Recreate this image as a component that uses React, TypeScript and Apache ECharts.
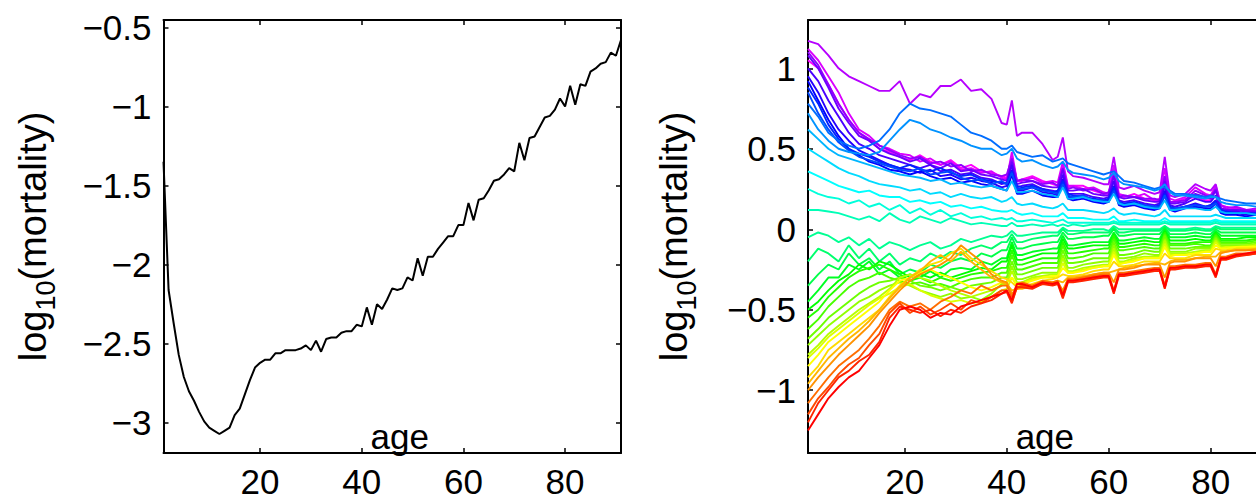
import React, { useEffect, useRef } from "react";
import * as echarts from "echarts";

// ages 1..91 (left panel, every year)
const ages = [
  1, 2, 3, 4, 5, 6, 7, 8, 9, 10, 11, 12, 13, 14, 15, 16, 17, 18, 19, 20,
  21, 22, 23, 24, 25, 26, 27, 28, 29, 30, 31, 32, 33, 34, 35, 36, 37, 38, 39, 40,
  41, 42, 43, 44, 45, 46, 47, 48, 49, 50, 51, 52, 53, 54, 55, 56, 57, 58, 59, 60,
  61, 62, 63, 64, 65, 66, 67, 68, 69, 70, 71, 72, 73, 74, 75, 76, 77, 78, 79, 80,
  81, 82, 83, 84, 85, 86, 87, 88, 89, 90, 91,
];

// mean log10 mortality by age (left panel)
const meanLogMortality = [
  -1.35, -2.16, -2.37, -2.57, -2.71, -2.8, -2.86, -2.93, -2.99, -3.03,
  -3.05, -3.07, -3.05, -3.03, -2.95, -2.91, -2.82, -2.73, -2.65, -2.62,
  -2.6, -2.6, -2.56, -2.56, -2.54, -2.54, -2.54, -2.53, -2.51, -2.54,
  -2.48, -2.55, -2.47, -2.46, -2.46, -2.43, -2.42, -2.42, -2.38, -2.39,
  -2.27, -2.38, -2.25, -2.28, -2.22, -2.15, -2.16, -2.15, -2.08, -2.1,
  -1.96, -2.07, -1.95, -1.95, -1.9, -1.86, -1.82, -1.82, -1.75, -1.75,
  -1.61, -1.72, -1.59, -1.58, -1.53, -1.47, -1.46, -1.43, -1.39, -1.41,
  -1.23, -1.34, -1.2, -1.19, -1.13, -1.07, -1.06, -1.02, -0.95, -1.0,
  -0.87, -0.99, -0.86, -0.87, -0.78, -0.76, -0.73, -0.72, -0.66, -0.68, -0.58,
];

// ages sampled for the right panel (denser around the decade spikes)
const sampleAges = [
  1, 3, 5, 7, 9, 11, 13, 15, 17, 19,
  21, 23, 25, 27, 29, 31, 33, 35, 37, 39,
  40, 41, 42, 43, 45, 47, 49, 50, 51, 52,
  53, 55, 57, 59, 60, 61, 62, 63, 65, 67,
  69, 70, 71, 72, 73, 75, 77, 79, 80, 81,
  82, 83, 85, 87, 89, 91,
];

// relative log10 mortality per period (right panel), earliest first
const p01 = [1.05,1.0,0.9,0.78,0.68,0.6,0.55,0.5,0.48,0.45, 0.43,0.46,0.42,0.4,0.43,0.38,0.4,0.36,0.35,0.33, 0.32,0.45,0.3,0.31,0.33,0.3,0.28,0.27,0.4,0.26, 0.27,0.27,0.24,0.22,0.22,0.35,0.21,0.2,0.22,0.19, 0.18,0.18,0.32,0.17,0.17,0.19,0.2,0.18,0.18,0.25, 0.13,0.12,0.13,0.11,0.12,0.1];
const p02 = [1.12,1.05,0.95,0.85,0.72,0.62,0.58,0.52,0.5,0.47, 0.46,0.42,0.44,0.4,0.42,0.37,0.38,0.35,0.36,0.32, 0.31,0.48,0.3,0.3,0.32,0.29,0.3,0.29,0.42,0.27, 0.27,0.25,0.26,0.23,0.22,0.4,0.22,0.21,0.2,0.22, 0.18,0.19,0.38,0.19,0.18,0.2,0.26,0.22,0.21,0.27, 0.15,0.14,0.13,0.12,0.12,0.11];
const p03 = [1.17,1.15,1.08,1.0,0.95,0.92,0.89,0.86,0.86,0.92, 0.78,0.84,0.82,0.89,0.89,0.93,0.86,0.87,0.81,0.66, 0.65,0.8,0.58,0.6,0.6,0.53,0.43,0.45,0.57,0.36, 0.33,0.32,0.3,0.28,0.28,0.45,0.26,0.25,0.27,0.24, 0.22,0.23,0.45,0.21,0.2,0.22,0.28,0.25,0.24,0.28, 0.15,0.13,0.14,0.12,0.13,0.12];
const p04 = [1.1,1.02,0.9,0.78,0.68,0.6,0.56,0.52,0.49,0.46, 0.44,0.45,0.41,0.42,0.39,0.4,0.36,0.37,0.34,0.33, 0.34,0.44,0.3,0.31,0.3,0.28,0.29,0.27,0.38,0.25, 0.26,0.24,0.25,0.22,0.23,0.34,0.2,0.21,0.2,0.19, 0.19,0.18,0.33,0.17,0.17,0.18,0.24,0.21,0.2,0.25, 0.13,0.12,0.12,0.12,0.11,0.11];
const p05 = [1.08,1.0,0.88,0.75,0.66,0.58,0.55,0.5,0.47,0.45, 0.42,0.44,0.4,0.38,0.41,0.36,0.37,0.34,0.33,0.31, 0.3,0.42,0.28,0.29,0.3,0.27,0.26,0.26,0.37,0.24, 0.24,0.25,0.22,0.21,0.21,0.33,0.2,0.19,0.2,0.18, 0.17,0.17,0.3,0.16,0.16,0.17,0.22,0.2,0.19,0.24, 0.13,0.12,0.12,0.11,0.11,0.1];
const p06 = [1.0,0.92,0.8,0.7,0.6,0.53,0.5,0.46,0.44,0.42, 0.4,0.38,0.4,0.36,0.37,0.34,0.35,0.32,0.31,0.28, 0.29,0.4,0.26,0.27,0.28,0.25,0.24,0.23,0.34,0.22, 0.22,0.22,0.2,0.19,0.2,0.3,0.18,0.17,0.18,0.16, 0.15,0.16,0.27,0.15,0.14,0.16,0.19,0.17,0.17,0.21, 0.12,0.11,0.11,0.1,0.1,0.09];
const p07 = [0.95,0.85,0.72,0.62,0.55,0.49,0.46,0.43,0.4,0.38, 0.37,0.35,0.37,0.33,0.34,0.31,0.32,0.3,0.29,0.26, 0.27,0.37,0.24,0.24,0.26,0.23,0.22,0.21,0.31,0.2, 0.2,0.21,0.18,0.17,0.18,0.27,0.16,0.15,0.16,0.14, 0.13,0.14,0.24,0.13,0.12,0.14,0.16,0.14,0.15,0.18, 0.11,0.1,0.1,0.09,0.09,0.08];
const p08 = [0.92,0.8,0.68,0.58,0.5,0.46,0.42,0.4,0.37,0.36, 0.34,0.36,0.33,0.31,0.32,0.29,0.3,0.28,0.27,0.25, 0.24,0.34,0.22,0.22,0.24,0.21,0.2,0.2,0.29,0.19, 0.18,0.19,0.17,0.16,0.17,0.25,0.15,0.14,0.15,0.13, 0.12,0.13,0.21,0.12,0.11,0.13,0.14,0.13,0.13,0.16, 0.1,0.09,0.09,0.08,0.09,0.08];
const p09 = [0.88,0.78,0.65,0.56,0.5,0.47,0.45,0.42,0.4,0.38, 0.4,0.37,0.36,0.38,0.35,0.33,0.34,0.31,0.3,0.29, 0.28,0.36,0.27,0.26,0.27,0.25,0.23,0.24,0.3,0.22, 0.21,0.2,0.19,0.18,0.19,0.26,0.17,0.16,0.17,0.15, 0.14,0.15,0.22,0.14,0.13,0.14,0.15,0.14,0.15,0.17, 0.12,0.11,0.1,0.1,0.1,0.09];
const p10 = [0.85,0.72,0.62,0.54,0.49,0.45,0.43,0.41,0.39,0.37, 0.36,0.38,0.34,0.35,0.36,0.32,0.3,0.31,0.28,0.3, 0.28,0.35,0.25,0.25,0.26,0.24,0.23,0.22,0.28,0.21, 0.2,0.21,0.18,0.18,0.17,0.24,0.17,0.15,0.16,0.15, 0.14,0.14,0.21,0.13,0.13,0.14,0.15,0.14,0.14,0.16, 0.11,0.1,0.1,0.1,0.09,0.09];
const p11 = [0.78,0.7,0.6,0.55,0.52,0.5,0.52,0.55,0.62,0.72, 0.78,0.75,0.74,0.72,0.7,0.65,0.6,0.58,0.55,0.5, 0.5,0.52,0.48,0.47,0.45,0.46,0.42,0.43,0.44,0.41, 0.4,0.38,0.36,0.34,0.35,0.36,0.33,0.3,0.29,0.27, 0.25,0.26,0.26,0.24,0.22,0.22,0.21,0.2,0.21,0.2, 0.19,0.18,0.17,0.16,0.16,0.15];
const p12 = [0.72,0.62,0.55,0.5,0.48,0.47,0.46,0.48,0.55,0.62, 0.68,0.66,0.62,0.6,0.57,0.55,0.52,0.5,0.5,0.46, 0.47,0.5,0.44,0.42,0.43,0.4,0.38,0.39,0.42,0.37, 0.35,0.34,0.33,0.31,0.32,0.35,0.3,0.28,0.27,0.26, 0.24,0.25,0.28,0.23,0.21,0.21,0.2,0.19,0.2,0.2, 0.17,0.16,0.15,0.15,0.14,0.14];
const p13 = [0.62,0.56,0.5,0.46,0.44,0.42,0.4,0.38,0.36,0.34, 0.33,0.32,0.3,0.31,0.28,0.29,0.27,0.26,0.27,0.25, 0.24,0.3,0.23,0.23,0.24,0.22,0.21,0.2,0.26,0.19, 0.19,0.2,0.18,0.17,0.17,0.22,0.16,0.15,0.16,0.14, 0.13,0.13,0.18,0.12,0.12,0.13,0.13,0.12,0.12,0.14, 0.11,0.1,0.1,0.1,0.09,0.09];
const p14 = [0.5,0.46,0.42,0.38,0.35,0.33,0.3,0.28,0.27,0.26, 0.24,0.25,0.22,0.23,0.2,0.22,0.2,0.19,0.2,0.17, 0.18,0.2,0.16,0.15,0.16,0.14,0.13,0.14,0.16,0.12, 0.12,0.12,0.11,0.1,0.11,0.13,0.1,0.09,0.1,0.09, 0.08,0.09,0.12,0.08,0.08,0.08,0.08,0.08,0.08,0.09, 0.08,0.07,0.07,0.07,0.07,0.07];
const p15 = [0.36,0.33,0.3,0.27,0.25,0.23,0.24,0.21,0.2,0.2, 0.17,0.18,0.16,0.17,0.14,0.15,0.13,0.14,0.12,0.11, 0.11,0.12,0.1,0.09,0.1,0.08,0.08,0.08,0.1,0.07, 0.07,0.07,0.06,0.06,0.06,0.08,0.05,0.05,0.06,0.05, 0.05,0.05,0.07,0.05,0.05,0.05,0.05,0.05,0.05,0.06, 0.05,0.05,0.05,0.05,0.05,0.05];
const p16 = [0.25,0.22,0.2,0.19,0.16,0.18,0.14,0.16,0.12,0.15, 0.1,0.13,0.09,0.12,0.08,0.1,0.07,0.08,0.06,0.07, 0.06,0.07,0.05,0.05,0.06,0.05,0.04,0.05,0.06,0.04, 0.04,0.04,0.04,0.04,0.04,0.05,0.04,0.04,0.04,0.04, 0.04,0.04,0.05,0.04,0.04,0.04,0.04,0.04,0.04,0.05, 0.04,0.04,0.04,0.04,0.04,0.04];
const p17 = [0.12,0.12,0.11,0.1,0.08,0.06,0.08,0.05,0.1,0.06, 0.04,0.08,0.06,0.04,0.07,0.05,0.03,0.04,0.03,0.02, 0.02,0.04,0.02,0.02,0.03,0.02,0.03,0.02,0.03,0.02, 0.03,0.02,0.03,0.03,0.03,0.04,0.03,0.03,0.03,0.03, 0.03,0.03,0.04,0.03,0.03,0.03,0.03,0.03,0.03,0.04, 0.03,0.03,0.03,0.03,0.03,0.03];
const p18 = [-0.05,-0.02,-0.04,-0.08,-0.05,-0.1,-0.06,-0.12,-0.08,-0.1, -0.13,-0.1,-0.08,-0.12,-0.1,-0.06,-0.08,-0.06,-0.04,-0.05, -0.04,-0.01,-0.04,-0.04,-0.03,-0.02,-0.02,-0.02,0.01,-0.01, -0.01,-0.01,0.0,0.0,-0.01,0.02,0.0,0.0,0.0,0.0, 0.0,0.0,0.02,0.0,0.0,0.0,0.01,0.0,0.0,0.02, 0.01,0.01,0.01,0.01,0.01,0.01];
const p19 = [-0.2,-0.12,-0.15,-0.2,-0.1,-0.18,-0.12,-0.2,-0.15,-0.22, -0.18,-0.2,-0.15,-0.18,-0.14,-0.16,-0.12,-0.1,-0.12,-0.08, -0.08,-0.03,-0.08,-0.08,-0.06,-0.05,-0.04,-0.04,0.0,-0.03, -0.03,-0.02,-0.02,-0.02,-0.02,0.01,-0.02,-0.02,-0.01,-0.01, -0.01,-0.01,0.02,-0.01,-0.01,-0.01,0.0,-0.01,-0.01,0.01, 0.0,0.0,0.0,0.0,0.0,0.0];
const p20 = [-0.35,-0.28,-0.22,-0.25,-0.15,-0.22,-0.18,-0.25,-0.2,-0.28, -0.25,-0.27,-0.22,-0.24,-0.2,-0.18,-0.2,-0.15,-0.17,-0.13, -0.13,-0.05,-0.12,-0.12,-0.1,-0.09,-0.08,-0.08,-0.02,-0.06, -0.06,-0.05,-0.05,-0.04,-0.04,0.0,-0.04,-0.04,-0.03,-0.03, -0.03,-0.03,0.01,-0.03,-0.03,-0.03,-0.02,-0.03,-0.03,0.0, -0.02,-0.02,-0.02,-0.02,-0.02,-0.02];
const p21 = [-0.45,-0.38,-0.3,-0.3,-0.22,-0.25,-0.2,-0.28,-0.25,-0.3, -0.28,-0.3,-0.26,-0.3,-0.25,-0.24,-0.25,-0.2,-0.22,-0.18, -0.18,-0.08,-0.16,-0.16,-0.14,-0.13,-0.12,-0.12,-0.04,-0.1, -0.1,-0.09,-0.08,-0.08,-0.08,-0.02,-0.07,-0.07,-0.06,-0.05, -0.06,-0.06,0.0,-0.05,-0.05,-0.05,-0.04,-0.05,-0.05,-0.01, -0.04,-0.04,-0.04,-0.04,-0.04,-0.04];
const p22 = [-0.5,-0.45,-0.38,-0.32,-0.28,-0.22,-0.25,-0.2,-0.22,-0.26, -0.3,-0.28,-0.3,-0.27,-0.3,-0.28,-0.26,-0.24,-0.25,-0.2, -0.2,-0.1,-0.19,-0.19,-0.17,-0.15,-0.15,-0.15,-0.06,-0.12, -0.12,-0.11,-0.1,-0.1,-0.1,-0.03,-0.09,-0.09,-0.08,-0.07, -0.08,-0.08,-0.01,-0.07,-0.07,-0.07,-0.06,-0.07,-0.07,-0.02, -0.06,-0.06,-0.06,-0.05,-0.05,-0.05];
const p23 = [-0.55,-0.5,-0.42,-0.36,-0.3,-0.26,-0.24,-0.22,-0.25,-0.28, -0.32,-0.3,-0.33,-0.3,-0.32,-0.3,-0.28,-0.27,-0.26,-0.24, -0.24,-0.13,-0.22,-0.22,-0.2,-0.18,-0.18,-0.18,-0.08,-0.15, -0.15,-0.14,-0.13,-0.12,-0.12,-0.04,-0.11,-0.11,-0.1,-0.09, -0.1,-0.1,-0.02,-0.09,-0.09,-0.09,-0.08,-0.08,-0.08,-0.03, -0.07,-0.07,-0.07,-0.07,-0.06,-0.06];
const p24 = [-0.62,-0.56,-0.48,-0.42,-0.36,-0.32,-0.3,-0.27,-0.3,-0.32, -0.34,-0.33,-0.35,-0.34,-0.36,-0.33,-0.31,-0.3,-0.3,-0.27, -0.27,-0.16,-0.25,-0.25,-0.23,-0.21,-0.21,-0.21,-0.1,-0.18, -0.18,-0.17,-0.15,-0.15,-0.15,-0.06,-0.13,-0.13,-0.12,-0.11, -0.12,-0.12,-0.03,-0.1,-0.1,-0.1,-0.09,-0.1,-0.1,-0.04, -0.08,-0.08,-0.08,-0.08,-0.07,-0.07];
const p25 = [-0.68,-0.62,-0.55,-0.5,-0.45,-0.4,-0.36,-0.33,-0.32,-0.3, -0.32,-0.35,-0.36,-0.38,-0.36,-0.38,-0.35,-0.34,-0.33,-0.3, -0.3,-0.2,-0.28,-0.28,-0.26,-0.24,-0.24,-0.24,-0.13,-0.21, -0.21,-0.2,-0.18,-0.18,-0.18,-0.08,-0.16,-0.16,-0.15,-0.13, -0.14,-0.14,-0.04,-0.12,-0.12,-0.12,-0.11,-0.11,-0.11,-0.05, -0.09,-0.09,-0.09,-0.09,-0.08,-0.08];
const p26 = [-0.72,-0.66,-0.6,-0.55,-0.5,-0.45,-0.42,-0.38,-0.35,-0.33, -0.35,-0.38,-0.4,-0.42,-0.4,-0.43,-0.42,-0.44,-0.4,-0.34, -0.33,-0.23,-0.31,-0.31,-0.29,-0.27,-0.27,-0.27,-0.16,-0.24, -0.24,-0.22,-0.21,-0.2,-0.2,-0.1,-0.18,-0.18,-0.17,-0.15, -0.16,-0.16,-0.06,-0.14,-0.14,-0.14,-0.12,-0.12,-0.12,-0.06, -0.1,-0.1,-0.1,-0.1,-0.09,-0.09];
const p27 = [-0.78,-0.72,-0.65,-0.6,-0.55,-0.5,-0.46,-0.42,-0.37,-0.3, -0.28,-0.3,-0.32,-0.35,-0.38,-0.4,-0.42,-0.4,-0.38,-0.35, -0.34,-0.26,-0.33,-0.33,-0.3,-0.29,-0.28,-0.28,-0.18,-0.26, -0.26,-0.24,-0.23,-0.22,-0.22,-0.12,-0.2,-0.2,-0.18,-0.17, -0.17,-0.17,-0.07,-0.15,-0.15,-0.15,-0.14,-0.13,-0.13,-0.07, -0.11,-0.11,-0.11,-0.1,-0.1,-0.1];
const p28 = [-0.8,-0.74,-0.67,-0.62,-0.57,-0.52,-0.47,-0.43,-0.4,-0.36, -0.34,-0.38,-0.41,-0.43,-0.45,-0.44,-0.46,-0.45,-0.42,-0.38, -0.37,-0.3,-0.35,-0.34,-0.31,-0.3,-0.3,-0.29,-0.21,-0.27, -0.27,-0.25,-0.24,-0.23,-0.23,-0.14,-0.21,-0.21,-0.19,-0.18, -0.18,-0.18,-0.09,-0.16,-0.16,-0.16,-0.15,-0.14,-0.14,-0.08, -0.12,-0.11,-0.11,-0.11,-0.1,-0.1];
const p29 = [-0.85,-0.78,-0.7,-0.65,-0.6,-0.55,-0.5,-0.45,-0.38,-0.32, -0.3,-0.27,-0.25,-0.28,-0.3,-0.33,-0.36,-0.38,-0.36,-0.33, -0.33,-0.3,-0.35,-0.34,-0.32,-0.3,-0.29,-0.29,-0.24,-0.27, -0.27,-0.26,-0.24,-0.23,-0.23,-0.16,-0.22,-0.21,-0.2,-0.18, -0.18,-0.18,-0.11,-0.17,-0.16,-0.16,-0.15,-0.14,-0.14,-0.1, -0.12,-0.12,-0.11,-0.11,-0.11,-0.1];
const p30 = [-0.92,-0.85,-0.75,-0.7,-0.65,-0.6,-0.55,-0.5,-0.42,-0.35, -0.3,-0.25,-0.22,-0.2,-0.15,-0.12,-0.18,-0.22,-0.26,-0.3, -0.31,-0.33,-0.36,-0.36,-0.34,-0.32,-0.31,-0.3,-0.28,-0.29, -0.29,-0.28,-0.26,-0.25,-0.25,-0.2,-0.23,-0.23,-0.22,-0.2, -0.2,-0.2,-0.15,-0.18,-0.18,-0.18,-0.16,-0.16,-0.16,-0.12, -0.13,-0.13,-0.12,-0.12,-0.12,-0.11];
const p31 = [-0.96,-0.88,-0.8,-0.74,-0.68,-0.63,-0.57,-0.5,-0.43,-0.36, -0.3,-0.26,-0.2,-0.16,-0.2,-0.14,-0.2,-0.25,-0.3,-0.33, -0.34,-0.38,-0.37,-0.37,-0.35,-0.34,-0.33,-0.32,-0.33,-0.3, -0.3,-0.29,-0.28,-0.27,-0.27,-0.26,-0.25,-0.24,-0.23,-0.22, -0.21,-0.21,-0.22,-0.2,-0.19,-0.19,-0.18,-0.17,-0.17,-0.17, -0.14,-0.14,-0.13,-0.13,-0.12,-0.12];
const p32 = [-1.0,-0.92,-0.85,-0.78,-0.72,-0.66,-0.6,-0.52,-0.45,-0.38, -0.32,-0.28,-0.25,-0.22,-0.18,-0.1,-0.15,-0.2,-0.28,-0.32, -0.33,-0.4,-0.37,-0.36,-0.36,-0.34,-0.33,-0.33,-0.38,-0.31, -0.31,-0.3,-0.28,-0.27,-0.27,-0.33,-0.25,-0.25,-0.24,-0.22, -0.22,-0.22,-0.3,-0.21,-0.2,-0.2,-0.18,-0.18,-0.18,-0.23, -0.15,-0.14,-0.13,-0.13,-0.13,-0.12];
const p33 = [-1.08,-1.0,-0.92,-0.85,-0.8,-0.75,-0.68,-0.6,-0.5,-0.45, -0.48,-0.46,-0.5,-0.45,-0.42,-0.38,-0.4,-0.35,-0.38,-0.35, -0.35,-0.42,-0.34,-0.33,-0.35,-0.32,-0.33,-0.32,-0.4,-0.31, -0.31,-0.3,-0.29,-0.28,-0.28,-0.38,-0.27,-0.27,-0.26,-0.25, -0.24,-0.24,-0.35,-0.23,-0.23,-0.22,-0.22,-0.21,-0.21,-0.28, -0.17,-0.17,-0.15,-0.15,-0.14,-0.13];
const p34 = [-1.15,-1.05,-0.98,-0.9,-0.84,-0.8,-0.72,-0.65,-0.52,-0.46, -0.52,-0.48,-0.53,-0.5,-0.46,-0.5,-0.44,-0.46,-0.42,-0.38, -0.38,-0.45,-0.36,-0.35,-0.36,-0.33,-0.34,-0.33,-0.42,-0.32, -0.32,-0.31,-0.3,-0.29,-0.29,-0.39,-0.28,-0.28,-0.27,-0.26, -0.25,-0.25,-0.36,-0.24,-0.24,-0.23,-0.23,-0.22,-0.22,-0.29, -0.18,-0.18,-0.16,-0.16,-0.15,-0.14];
const p35 = [-1.2,-1.08,-1.0,-0.92,-0.88,-0.82,-0.78,-0.7,-0.55,-0.48, -0.5,-0.52,-0.5,-0.54,-0.5,-0.52,-0.48,-0.46,-0.44,-0.4, -0.39,-0.46,-0.36,-0.36,-0.37,-0.34,-0.35,-0.34,-0.43,-0.33, -0.33,-0.32,-0.31,-0.3,-0.3,-0.4,-0.29,-0.29,-0.28,-0.27, -0.26,-0.26,-0.37,-0.25,-0.25,-0.24,-0.24,-0.23,-0.23,-0.3, -0.19,-0.19,-0.17,-0.16,-0.15,-0.14];
const p36 = [-1.25,-1.15,-1.05,-0.98,-0.92,-0.88,-0.8,-0.72,-0.6,-0.5, -0.48,-0.5,-0.55,-0.52,-0.53,-0.48,-0.46,-0.44,-0.42,-0.4, -0.38,-0.44,-0.34,-0.34,-0.36,-0.33,-0.34,-0.33,-0.41,-0.32, -0.32,-0.31,-0.3,-0.29,-0.29,-0.39,-0.28,-0.28,-0.27,-0.26, -0.25,-0.25,-0.36,-0.24,-0.24,-0.23,-0.23,-0.22,-0.22,-0.29, -0.18,-0.18,-0.16,-0.15,-0.14,-0.14];

const periods = [
  p01, p02, p03, p04, p05, p06, p07, p08, p09, p10, p11, p12,
  p13, p14, p15, p16, p17, p18, p19, p20, p21, p22, p23, p24,
  p25, p26, p27, p28, p29, p30, p31, p32, p33, p34, p35, p36,
];

const xTicks = [20, 40, 60, 80];
const yTicksLeft = [-3, -2.5, -2, -1.5, -1, -0.5];
const yTicksRight = [-1, -0.5, 0, 0.5, 1];

const FONT = "'Liberation Sans', Arial, Helvetica, sans-serif";

const fmt = (v: number) => (v < 0 ? "\u2212" + String(Math.abs(v)) : String(v));

function xAxesFor(g: number) {
  const common = {
    type: "value" as const,
    gridIndex: g,
    min: 1,
    max: 91,
    axisLine: { show: true, onZero: false, lineStyle: { color: "#000", width: 2 } },
    axisTick: { show: true, inside: true, length: 5, customValues: xTicks, lineStyle: { color: "#000", width: 1.5 } },
    splitLine: { show: false },
  };
  return [
    {
      ...common,
      position: "bottom",
      axisLabel: {
        show: true, customValues: xTicks, margin: 13, lineHeight: 30,
        color: "#000", fontSize: 35, fontFamily: FONT,
      },
      name: "age",
      nameLocation: "middle",
      nameGap: -34,
      nameMoveOverlap: false,
      nameTextStyle: { color: "#000", fontSize: 35, fontFamily: FONT, padding: [0, 0, 0, 15] },
    },
    { ...common, position: "top", axisLabel: { show: false } },
  ];
}

function yAxesFor(g: number, min: number, max: number, ticks: number[], gap: number) {
  const common = {
    type: "value" as const,
    gridIndex: g,
    min,
    max,
    axisLine: { show: true, onZero: false, lineStyle: { color: "#000", width: 2 } },
    axisTick: { show: true, inside: true, length: 5, customValues: ticks, lineStyle: { color: "#000", width: 1.5 } },
    splitLine: { show: false },
  };
  return [
    {
      ...common,
      position: "left",
      axisLabel: { show: true, customValues: ticks, margin: 12, color: "#000", fontSize: 35, fontFamily: FONT, formatter: fmt },
      name: "{a|log}{b|10}{a|(mortality)}",
      nameLocation: "middle",
      nameRotate: 90,
      nameGap: gap,
      nameMoveOverlap: false,
      nameTextStyle: {
        color: "#000",
        fontFamily: FONT,
        fontSize: 38,
        rich: {
          a: { fontSize: 38, fontFamily: FONT, color: "#000" },
          b: { fontSize: 27, fontFamily: FONT, color: "#000", padding: [26, 0, 0, 0] },
        },
      },
    },
    { ...common, position: "right", axisLabel: { show: false } },
  ];
}

export default function App() {
  const ref = useRef<HTMLDivElement>(null);
  useEffect(() => {
    if (!ref.current) return;
    const chart = echarts.init(ref.current, undefined, { renderer: "svg" });
    const n = periods.length;
    const option: any = {
      animation: false,
      backgroundColor: "#fff",
      grid: [
        { left: 163.5, top: 20, width: 457.5, height: 433, containLabel: false, outerBoundsMode: "none" },
        { left: 808, top: 20, width: 458.7, height: 433, containLabel: false, outerBoundsMode: "none" },
      ],
      xAxis: [...xAxesFor(0), ...xAxesFor(1)],
      yAxis: [...yAxesFor(0, -3.19, -0.454, yTicksLeft, 104), ...yAxesFor(1, -1.39, 1.3, yTicksRight, 108)],
      series: [
        {
          type: "line",
          xAxisIndex: 0,
          yAxisIndex: 0,
          data: ages.map((a, i) => [a, meanLogMortality[i]]),
          symbol: "none",
          lineStyle: { color: "#000", width: 2 },
          clip: true,
        },
        ...periods.map((vals, k) => ({
          type: "line",
          xAxisIndex: 2,
          yAxisIndex: 2,
          data: sampleAges.map((a, j) => [a, vals[j]]),
          symbol: "none",
          clip: true,
          lineStyle: { color: `hsl(${300 - (k * 300) / (n - 1)}, 100%, 50%)`, width: 1.9 },
        })),
      ],
    };
    chart.setOption(option);
    return () => chart.dispose();
  }, []);
  return <div ref={ref} style={{ position: "absolute", left: 0, top: 0, width: 1256, height: 500 }} />;
}
